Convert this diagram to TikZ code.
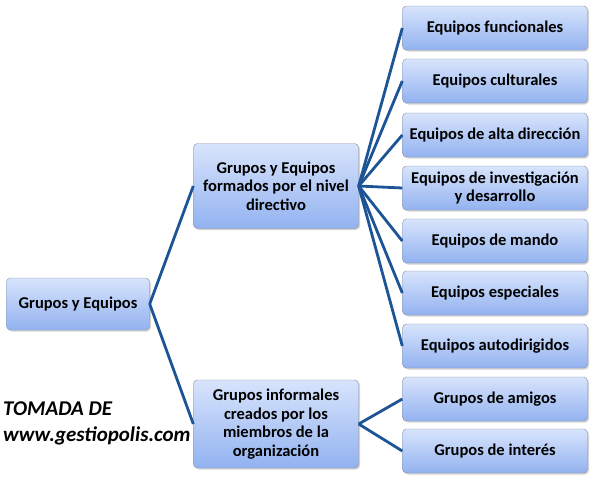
\documentclass[tikz,border=0pt]{standalone}
\usepackage{fontspec}
\setmainfont{Carlito}
\usetikzlibrary{shadows}
\definecolor{linkblue}{RGB}{28,84,150}
\definecolor{boxtop}{RGB}{216,228,252}
\definecolor{boxbot}{RGB}{146,178,240}
\definecolor{boxedge}{RGB}{135,145,165}

\begin{document}
\begin{tikzpicture}[x=1pt,y=-1pt,
   box/.style={draw=boxedge, rounded corners=4pt, top color=boxtop, bottom color=boxbot,
      drop shadow={shadow xshift=1.5pt,shadow yshift=-1.5pt,opacity=.35},
      align=center, inner sep=2pt, font=\bfseries\fontsize{16.5}{18.5}\selectfont},
   leaf/.style={box, minimum width=185pt, minimum height=44pt},
   midbox/.style={box, minimum width=165pt},
   link/.style={draw=linkblue, line width=2.8pt}]
   \useasboundingbox (0,0) rectangle (595,480);
   % nodos
   \node[box, minimum width=143pt, minimum height=52pt] (root) at ( 78,304) {Grupos y Equipos};
   \node[midbox, minimum height=85pt] (direc) at (276,186) {Grupos y Equipos\\formados por el nivel\\directivo};
   \node[midbox, minimum height=88pt] (infor) at (276,424) {Grupos informales\\creados por los\\miembros de la\\organización};
   \node[leaf] (func) at (495, 28) {Equipos funcionales};
   \node[leaf] (cult) at (495, 81) {Equipos culturales};
   \node[leaf] (alta) at (495,135) {Equipos de alta dirección};
   \node[leaf] (inve) at (495,188) {Equipos de investigación\\y desarrollo};
   \node[leaf] (mand) at (495,241) {Equipos de mando};
   \node[leaf] (espe) at (495,293) {Equipos especiales};
   \node[leaf] (auto) at (495,346) {Equipos autodirigidos};
   \node[leaf] (amig) at (495,399) {Grupos de amigos};
   \node[leaf] (inte) at (495,451) {Grupos de interés};
   % conectores
   \draw[link] (root.east) -- (direc.west);
   \draw[link] (root.east) -- (infor.west);
   \foreach \n in {func,cult,alta,inve,mand,espe,auto}
      \draw[link] (direc.east) -- (\n.west);
   \foreach \n in {amig,inte}
      \draw[link] (infor.east) -- (\n.west);
   % fuente
   \node[anchor=west, align=left, inner sep=0pt, font=\bfseries\itshape\fontsize{21}{26}\selectfont] (fuente) at (3,423) {TOMADA DE\\www.gestiopolis.com};
\end{tikzpicture}
\end{document}
